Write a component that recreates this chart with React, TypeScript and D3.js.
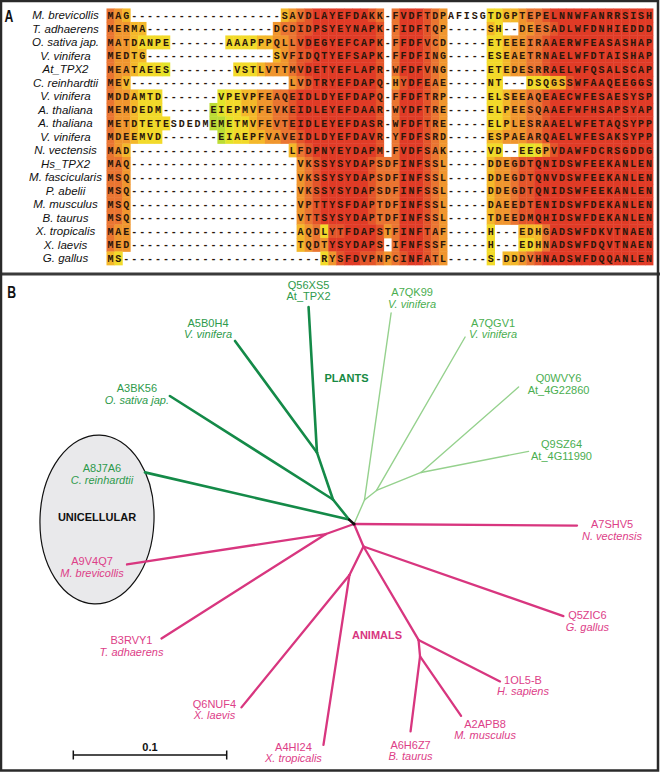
import React from "react";
import * as d3 from "d3";

const W = 660;
const H = 772;

// ---------- Panel A data ----------
const SPECIES = [
  "M. brevicollis", "T. adhaerens", "O. sativa jap.", "V. vinifera", "At_TPX2",
  "C. reinhardtii", "V. vinifera", "A. thaliana", "A. thaliana", "V. vinifera",
  "N. vectensis", "Hs_TPX2", "M. fascicularis", "P. abelii", "M. musculus",
  "B. taurus", "X. tropicalis", "X. laevis", "G. gallus",
];

const gap = (n: number) => "-".repeat(n);
const zero = (n: number) => "0".repeat(n);
const nines = (n: number) => "9".repeat(n);

const SEQUENCES = [
  "MAG" + gap(19) + "SAVDL" + "AYEFDAKK-FVDFTDPAFISGTDGPTEPELNNWFANRRSISH",
  "MERMA" + gap(16) + "DCDIDP" + "SYEYNAPK-FIDFTQP-----SH--DEESADLWFDNHIEDDD",
  "MATDANPE" + gap(7) + "AAAPPPQLLVDE" + "GYEFCAPK-FFDFVCD-----ETEEEIRAAERWFEASASHAP",
  "MEDTG" + gap(16) + "SVFIDQ" + "TYEFSAPK-FFDFING-----ESEAETRNAELWFDTAISHAP",
  "MEATAEES" + gap(8) + "VSTLVTTMVDE" + "TYEFLAPR-WFDFVNG-----ETEDESRRAELWFQSALSCAP",
  "MEV" + gap(20) + "LVDT" + "RYEFDAPQ-HYDFEAE-----NT---DSQGSSWFAAQEEGGS",
  "MDDAMTD" + gap(7) + "VPEVPFEAQEIDL" + "DYEFDAPQ-FFDFTRP-----ELSEEAQEAECWFESAESYSP",
  "MEMDEDM" + gap(6) + "EIEPMVFEVKEIDL" + "EYEFDAAR-WYDFTRE-----ELPEESQAAEFWFHSAPSYAP",
  "METDTETESDEDMEMETMVFEVTEIDL" + "EYEFDASR-WFDFTRE-----ELPLESRAAELWFETAQSYPP",
  "MDEEMVD" + gap(7) + "EIAEPFVAVEIDL" + "DYEFDAVR-YFDFSRD-----ESPAEARQAELWFESAKSYPP",
  "MAD" + gap(20) + "LFDP" + "NYEYDAPM-FVDFSAK-----VD--EEGPVDAWFDCRSGDDG",
  "MAQ" + gap(21) + "VKS" + "SYSYDAPSDFINFSSL-----DDEGDTQNIDSWFEEKANLEN",
  "MSQ" + gap(21) + "VKS" + "SYSYDAPSDFINFSSL-----DDEGDTQNVDSWFEEKANLEN",
  "MSQ" + gap(21) + "VKS" + "SYSYDAPSDFINFSSL-----DDEGDTQNIDSWFEEKANLEN",
  "MSQ" + gap(21) + "VPT" + "TYSFDAPTDFINFSSL-----DAEEDTENIDSWFDEKANLEN",
  "MSQ" + gap(21) + "VTT" + "SYSYDAPTDFINFSSL-----TDEEDMQHIDSWFDEKANLEN",
  "MAE" + gap(21) + "AQD" + "LYTFDAPSTFINFTAF-----H---EDHGADSWFDKVTNAEN",
  "MED" + gap(21) + "TQD" + "TYSYDAPS-IFNFSSF-----H---EDHNADSWFDQVTNAEN",
  "MS" + gap(25) + "RYSFDVPNPCINFATL-----S-DDDVHNADSWFDQQANLEN",
];

// per-residue consistency score (0 = uncoloured, 9 = best)
const SCORES = [
  "765" + zero(19) + "56789" + "99999987" + "0" + "7999876" + "00000" + "44556778" + nines(13),
  "76655" + zero(16) + "677889" + "99999998" + "0" + "7999876" + "00000" + "54" + "00" + "6677" + "8" + nines(12),
  "76654444" + zero(7) + "444455667899" + "99999998" + "0" + "7999876" + "00000" + "4456677" + "8" + nines(13),
  "76655" + zero(16) + "567889" + "99999998" + "0" + "7999876" + "00000" + "4456677" + "8" + nines(13),
  "76654443" + zero(8) + "44456667899" + "99999998" + "0" + "7999876" + "00000" + "4456677" + "8" + nines(13),
  "765" + zero(20) + "6789" + "99999998" + "0" + "6899876" + "00000" + "44" + "000" + "44455" + "8" + nines(10),
  "7665444" + zero(7) + "3445566778999" + "99999998" + "0" + "7999876" + "00000" + "4456677" + "8" + nines(13),
  "7665444" + zero(6) + "23445566778999" + "99999998" + "0" + "7999876" + "00000" + "4456677" + "8" + nines(13),
  "76654444" + "00000" + "22344566778999" + "99999998" + "0" + "7999876" + "00000" + "4456677" + "8" + nines(13),
  "7665444" + zero(7) + "2344556677899" + "99999998" + "0" + "7999876" + "00000" + "5566677" + "8" + nines(13),
  "765" + zero(20) + "5789" + "99999998" + "0" + "7999876" + "00000" + "44" + "00" + "434" + "68" + nines(12),
  "776" + zero(21) + "678" + "99999987" + "7" + "7999876" + "00000" + "5667889" + nines(14),
  "776" + zero(21) + "678" + "99999987" + "7" + "7999876" + "00000" + "5667889" + nines(14),
  "776" + zero(21) + "678" + "99999987" + "7" + "7999876" + "00000" + "5667889" + nines(14),
  "776" + zero(21) + "678" + "99999987" + "7" + "7999876" + "00000" + "5667889" + nines(14),
  "776" + zero(21) + "678" + "99999987" + "7" + "7999876" + "00000" + "5667889" + nines(14),
  "766" + zero(21) + "567" + "48899998" + "6" + "7999876" + "00000" + "4" + "000" + "555" + "7" + nines(13),
  "766" + zero(21) + "567" + "69999998" + "0" + "7999876" + "00000" + "4" + "000" + "445" + "7" + nines(13),
  "54" + zero(25) + "46899887" + "6" + "7899876" + "00000" + "4" + "0" + "5567" + "8" + nines(14),
];

const SCORE_COLORS = [
  "#ffffff", "#8fcc3c", "#bcdc34", "#e2e42a", "#f2da2a",
  "#f4b82c", "#f0962e", "#ea7430", "#e4552a", "#e03b26",
];

// ---------- Panel B data ----------
const NODE_IDS = ["P1", "Cr", "P2", "Os", "P3", "Vv1", "At", "L1", "QK99", "L2", "QGV1", "L3", "Q0W", "Q9S",
  "Nv", "U", "Mb", "Ta", "A2", "Gg", "A5", "Xl", "Xt", "A3", "Hs", "A6", "Mm", "Bt"];
const NODE_PARENTS = ["root", "P1", "P1", "P2", "P2", "P3", "P3", "root", "L1", "L1", "L2", "L2", "L3", "L3",
  "root", "root", "U", "U", "root", "A2", "A2", "A5", "A5", "A2", "A3", "A3", "A6", "A6"];
const BRANCH_LENGTHS = [0.0044, 0.1365, 0.0167, 0.1259, 0.0324, 0.0902, 0.0950, 0.0171, 0.1231, 0.0100,
  0.1155, 0.0313, 0.0845, 0.0714, 0.1454, 0.0194, 0.1312, 0.1270, 0.0159, 0.1380, 0.0207, 0.1114,
  0.1121, 0.0707, 0.0596, 0.0108, 0.0471, 0.0493];
const NODE_GROUPS = ["root", "plantA", "plantA", "plantA", "plantA", "plantA", "plantA", "plantB", "plantB",
  "plantB", "plantB", "plantB", "plantB", "plantB", "animal", "animal", "animal", "animal", "animal",
  "animal", "animal", "animal", "animal", "animal", "animal", "animal", "animal", "animal"];

const LEAF_IDS = ["Cr", "Os", "Vv1", "At", "QK99", "QGV1", "Q0W", "Q9S", "Nv", "Mb", "Ta", "Gg", "Xl", "Xt", "Hs", "Mm", "Bt"];
const LEAF_ACCESSIONS = ["A8J7A6", "A3BK56", "A5B0H4", "Q56XS5", "A7QK99", "A7QGV1", "Q0WVY6", "Q9SZ64",
  "A7SHV5", "A9V4Q7", "B3RVY1", "Q5ZIC6", "Q6NUF4", "A4HI24", "1OL5-B", "A2APB8", "A6H6Z7"];
const LEAF_NAMES = ["C. reinhardtii", "O. sativa jap.", "V. vinifera", "At_TPX2", "V. vinifera", "V. vinifera",
  "At_4G22860", "At_4G11990", "N. vectensis", "M. brevicollis", "T. adhaerens", "G. gallus", "X. laevis",
  "X. tropicalis", "H. sapiens", "M. musculus", "B. taurus"];
const SCALE_BAR_VALUE = 0.1;

// ---------- layout (not data) ----------
const BRANCH_ANGLES = [-138, -167.0, -128.7, -147.6, -108.8, -126.3, -93.3, -66.4, -81.9, -38.4, -60.0, -22.0,
  -41.2, -11.1, 0.4, 160.3, 171.3, 147.6, 67.1, 19.2, 116.2, 129.2, 98.7, 59.5, 27.0, 84.8, 55.4, 97.2];
const LABEL_OFFSETS: [number, number][] = [[-43, -4], [-33, -8], [-27, -18], [0, -22], [21, -21], [28, -14],
  [40, -9], [33, -7], [35, -1.5], [-35, -3], [-30, 2], [24, -1], [-27, -3.5], [-30, 2], [23, -1.5], [24, 8], [0, 13.5]];
const ROOT_PX: [number, number] = [354, 524];

const GROUP_STYLE: Record<string, { stroke: string; width: number; label: string }> = {
  root: { stroke: "#111", width: 2.4, label: "#111" },
  plantA: { stroke: "#148a48", width: 2.6, label: "#2e9a4b" },
  plantB: { stroke: "#95d18d", width: 1.4, label: "#4aae4f" },
  animal: { stroke: "#d8367f", width: 2.3, label: "#dd4088" },
};

const SANS = "'Liberation Sans', Arial, Helvetica, sans-serif";
const MONO = "'Liberation Mono', 'Courier New', monospace";

export default function App() {
  const nCols = 69;
  const colX = d3.scaleLinear().domain([0, nCols]).range([106.5, 653]);
  const cw = colX(1) - colX(0);
  const rowY = d3.scaleBand<number>().domain(d3.range(SPECIES.length)).range([8.45, 8.45 + 13.5 * SPECIES.length]);
  const rh = rowY.bandwidth();

  const lenScale = d3.scaleLinear().domain([0, 0.1]).range([0, 153.4]);
  const pos: Record<string, [number, number]> = { root: ROOT_PX };
  NODE_IDS.forEach((id, i) => {
    const p = pos[NODE_PARENTS[i]];
    const a = (BRANCH_ANGLES[i] * Math.PI) / 180;
    const r = lenScale(BRANCH_LENGTHS[i]);
    pos[id] = [p[0] + r * Math.cos(a), p[1] + r * Math.sin(a)];
  });
  const edgeOrder = ["plantB", "plantA", "animal", "root"];
  const groupOf: Record<string, string> = {};
  NODE_IDS.forEach((id, i) => (groupOf[id] = NODE_GROUPS[i]));

  const cells: React.ReactNode[] = [];
  const letters: React.ReactNode[] = [];
  SEQUENCES.forEach((seq, r) => {
    const sc = SCORES[r].padEnd(nCols, "0");
    const y0 = rowY(r)!;
    for (let c = 0; c < nCols; c++) {
      const ch = seq[c] ?? "-";
      const s = ch === "-" ? 0 : +sc[c];
      if (s > 0) {
        cells.push(
          <rect key={`c${r}-${c}`} x={colX(c)} y={y0} width={cw + 0.4} height={rh + 0.4} fill={SCORE_COLORS[s]} />
        );
      }
      letters.push(
        <text key={`t${r}-${c}`} x={colX(c) + cw / 2} y={y0 + rh / 2 + 3.4} textAnchor="middle"
          fontFamily={MONO} fontWeight="bold" fontSize={10} fill="#2a170c">{ch}</text>
      );
    }
  });

  return (
    <svg width={W} height={H} viewBox={`0 0 ${W} ${H}`} style={{ position: "absolute", left: 0, top: 0, background: "#fff" }}>
      <defs>
        <filter id="soft" x="-2%" y="-2%" width="104%" height="104%">
          <feGaussianBlur stdDeviation="0.5" />
        </filter>
      </defs>
      <rect x={0} y={0} width={W} height={H} fill="#fff" />

      {/* Panel A */}
      <text x={9} y={22} transform="translate(9,22) scale(0.72,1) translate(-9,-22)" textAnchor="middle"
        fontFamily={SANS} fontWeight="bold" fontSize={17} fill="#111">A</text>
      {SPECIES.map((s, i) => (
        <text key={s + i} x={65.5} y={rowY(i)! + rh / 2 + 4} textAnchor="middle" fontFamily={SANS}
          fontStyle="italic" fontSize={11.5} fill="#111">{s}</text>
      ))}
      <g filter="url(#soft)">{cells}</g>
      <g>{letters}</g>

      {/* separator */}
      <line x1={0} x2={W} y1={274} y2={274} stroke="#3a3a3a" strokeWidth={3} />

      {/* Panel B */}
      <text x={11.7} y={298} transform="translate(11.7,298) scale(0.72,1) translate(-11.7,-298)" textAnchor="middle"
        fontFamily={SANS} fontWeight="bold" fontSize={17} fill="#111">B</text>

      <ellipse cx={97} cy={519.5} rx={57} ry={84.5} transform="rotate(2 97 519.5)" fill="#e9e9eb" stroke="#111" strokeWidth={1.2} />
      <text x={97} y={520.5} textAnchor="middle" fontFamily={SANS} fontWeight="bold" fontSize={11} fill="#111">UNICELLULAR</text>

      {edgeOrder.map((grp) => (
        <g key={grp}>
          {NODE_IDS.filter((id) => groupOf[id] === grp).map((id) => {
            const i = NODE_IDS.indexOf(id);
            const p = pos[NODE_PARENTS[i]];
            const q = pos[id];
            const st = GROUP_STYLE[grp];
            return (
              <line key={id} x1={p[0]} y1={p[1]} x2={q[0]} y2={q[1]} stroke={st.stroke}
                strokeWidth={st.width} strokeLinecap="round" />
            );
          })}
        </g>
      ))}
      <circle cx={ROOT_PX[0]} cy={ROOT_PX[1]} r={1.6} fill="#111" />

      {LEAF_IDS.map((id, k) => {
        const q = pos[id];
        const [dx, dy] = LABEL_OFFSETS[k];
        const col = GROUP_STYLE[groupOf[id]].label;
        const nm = LEAF_NAMES[k];
        const italic = !nm.startsWith("At_");
        return (
          <g key={id} fontFamily={SANS} fontSize={11} fill={col} textAnchor="middle">
            <text x={q[0] + dx} y={q[1] + dy + 4}>{LEAF_ACCESSIONS[k]}</text>
            <text x={q[0] + dx} y={q[1] + dy + 15.5} fontStyle={italic ? "italic" : "normal"}>{nm}</text>
          </g>
        );
      })}

      <text x={346.5} y={382} textAnchor="middle" fontFamily={SANS} fontWeight="bold" fontSize={11} fill="#178a43">PLANTS</text>
      <text x={377} y={639} textAnchor="middle" fontFamily={SANS} fontWeight="bold" fontSize={11} fill="#d8367f">ANIMALS</text>

      {/* scale bar */}
      <g stroke="#111" strokeWidth={1.5}>
        <line x1={73.3} x2={73.3 + lenScale(SCALE_BAR_VALUE)} y1={755} y2={755} />
        <line x1={73.3} x2={73.3} y1={750.5} y2={759.5} />
        <line x1={73.3 + lenScale(SCALE_BAR_VALUE)} x2={73.3 + lenScale(SCALE_BAR_VALUE)} y1={750.5} y2={759.5} />
      </g>
      <text x={73.3 + lenScale(SCALE_BAR_VALUE) / 2} y={751} textAnchor="middle" fontFamily={SANS} fontWeight="bold"
        fontSize={11} fill="#111">{SCALE_BAR_VALUE}</text>

      {/* outer frame */}
      <rect x={1} y={1} width={W - 3} height={H - 2.5} fill="none" stroke="#2a2a2a" strokeWidth={2.5} />
    </svg>
  );
}
